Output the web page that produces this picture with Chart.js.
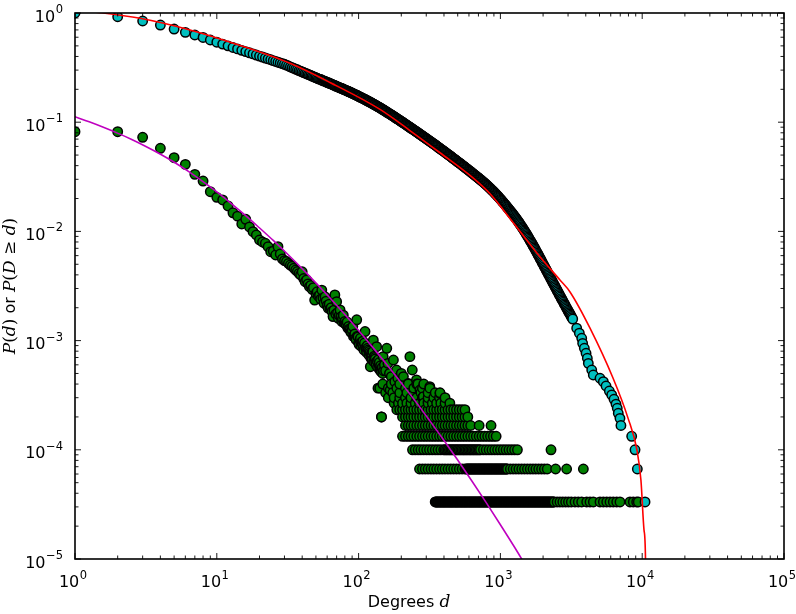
<!DOCTYPE html>
<html><head><meta charset="utf-8">
<script src="https://cdn.jsdelivr.net/npm/chart.js@4.4.1/dist/chart.umd.min.js"></script>
<style>html,body{margin:0;padding:0;background:#fff}canvas{display:block}</style>
</head><body>
<canvas id="c" width="796" height="614" style="width:796px;height:614px"></canvas>
<script>
// ---------- tick labels ----------
const xTickExponents = [0, 1, 2, 3, 4, 5];
const yTickExponents = [0, -1, -2, -3, -4, -5];
const minorMultipliers = [2, 3, 4, 5, 6, 7, 8, 9];

// ---------- complementary CDF P(D >= d)  [degree, probability] ----------
const ccdfPoints = [
[1,1.0],[2,0.925],[3,0.845],[4,0.776],[5,0.713],[6,0.665],[7,0.629],[8,0.597],[9,0.566],[10,0.540],
[11,0.519],[12,0.500],[13,0.483],[14,0.469],[15,0.455],[16,0.443],[17,0.432],[18,0.422],[19,0.412],[20,0.403],
[21,0.395],[22,0.387],[23,0.380],[24,0.373],[25,0.366],[26,0.360],[27,0.354],[28,0.349],[29,0.344],[30,0.339],
[31,0.333],[32,0.327],[33,0.321],[34,0.316],[35,0.311],[36,0.306],[37,0.302],[38,0.297],[39,0.293],[40,0.289],
[41,0.285],[42,0.281],[43,0.278],[44,0.274],[45,0.271],[46,0.268],[47,0.264],[48,0.261],[49,0.258],[50,0.256],
[51,0.2526],[52,0.2495],[54,0.2464],[55,0.2432],[56,0.2402],[58,0.2371],[59,0.2342],[60,0.2312],[62,0.2283],[63,0.2254],
[65,0.2226],[66,0.2198],[68,0.2170],[69,0.2143],[71,0.2116],[72,0.2089],[74,0.2063],[76,0.2037],[78,0.2011],[79,0.1986],
[81,0.1961],[83,0.1935],[85,0.1909],[87,0.1884],[89,0.1858],[91,0.1832],[93,0.1806],[96,0.1780],[98,0.1754],[100,0.1728],
[102,0.1703],[105,0.1678],[107,0.1653],[110,0.1628],[112,0.1603],[115,0.1578],[117,0.1553],[120,0.1529],[123,0.1504],[126,0.1479],
[129,0.1455],[132,0.1430],[135,0.1405],[138,0.1381],[141,0.1357],[145,0.1332],[148,0.1308],[151,0.1285],[155,0.1261],[158,0.1237],
[162,0.1214],[166,0.1191],[170,0.1168],[174,0.1146],[178,0.1124],[182,0.1102],[186,0.1080],[191,0.1059],[195,0.1038],[200,0.1017],
[204,0.09975],[209,0.09779],[214,0.09585],[219,0.09395],[224,0.09207],[229,0.09022],[234,0.08841],[240,0.08661],[245,0.08486],[251,0.08314],
[257,0.08143],[263,0.07976],[269,0.07812],[275,0.0765],[282,0.07491],[288,0.07336],[295,0.07184],[302,0.07033],[309,0.06887],[316,0.06742],
[324,0.0660],[331,0.0646],[339,0.06324],[347,0.06188],[355,0.06056],[363,0.05925],[372,0.05797],[380,0.05672],[389,0.05549],[398,0.05427],
[407,0.05308],[417,0.05191],[427,0.05076],[437,0.04964],[447,0.04854],[457,0.04747],[468,0.04641],[479,0.04537],[490,0.04436],[501,0.04337],
[513,0.0424],[525,0.04144],[537,0.0405],[550,0.03957],[562,0.03866],[575,0.03777],[589,0.0369],[603,0.03604],[617,0.0352],[631,0.03437],
[646,0.03356],[661,0.03276],[676,0.03198],[692,0.03122],[708,0.03047],[724,0.02973],[741,0.02901],[759,0.02828],[776,0.02755],[794,0.02683],
[813,0.0261],[832,0.02538],[851,0.02466],[871,0.02394],[891,0.02323],[912,0.02252],[933,0.02183],[955,0.02113],[977,0.02044],[1000,0.01975],
[1023,0.01908],[1047,0.01843],[1072,0.01778],[1096,0.01715],[1122,0.01654],[1148,0.01594],[1175,0.01536],[1202,0.01479],[1230,0.01424],[1259,0.01369],
[1288,0.01315],[1318,0.01262],[1349,0.01209],[1380,0.01157],[1413,0.01107],[1445,0.01057],[1479,0.01008],[1514,0.009605],[1549,0.009141],[1585,0.00869],
[1622,0.008257],[1660,0.007839],[1698,0.007437],[1738,0.007052],[1778,0.006683],[1820,0.006328],[1862,0.005988],[1905,0.005662],[1950,0.005352],[1995,0.005056],
[2042,0.004777],[2089,0.004516],[2138,0.004268],[2188,0.004034],[2239,0.003814],[2291,0.003604],[2344,0.003406],[2399,0.00322],[2455,0.003045],[2512,0.002878],
[2570,0.002721],[2630,0.002574],[2692,0.002435],[2754,0.002304],[2818,0.002181],[2884,0.002064],[2951,0.001955],[3020,0.001851],[3090,0.001754],[3162,0.001662],
[3236,0.001575],[3451,1.30e-3],[3603,1.17e-3],[3745,1.05e-3],[3802,9.44e-4],[3908,8.50e-4],[4018,7.65e-4],[4102,6.89e-4],[4169,6.19e-4],[4406,5.38e-4],
[4519,4.84e-4],[5040,4.52e-4],[5321,4.21e-4],[5559,3.84e-4],[5865,3.45e-4],[6096,3.18e-4],[6326,2.90e-4],[6534,2.62e-4],[6670,2.40e-4],[6780,2.16e-4],
[6970,1.94e-4],[7080,1.67e-4],[8430,1.33e-4],[8900,1.0e-4],[9240,6.67e-5],[10470,3.33e-5]
];
// further degrees along the densely packed (black-looking) stretch of the same curve
const ccdfPointsDense = [
[53,0.2478],[57,0.2380],[61,0.2294],[64,0.2237],[67,0.2181],[70,0.2129],[73,0.2080],[75,0.2049],[77,0.2020],[80,0.1978],
[82,0.1951],[84,0.1924],[86,0.1898],[88,0.1872],[90,0.1847],[92,0.1822],[94,0.1798],[95,0.1786],[97,0.1762],[99,0.1739],
[101,0.17155],[103,0.16905],[106,0.16655],[108,0.16405],[111,0.16155],[113,0.15905],[116,0.15655],[119,0.1541],[122,0.15165],[124,0.14915],
[127,0.1467],[130,0.14425],[133,0.14175],[136,0.1393],[140,0.1369],[143,0.13445],[146,0.132],[150,0.12965],[153,0.1273],[157,0.1249],
[160,0.12255],[164,0.12025],[168,0.11795],[172,0.1157],[176,0.1135],[180,0.1113],[184,0.1091],[188,0.10695],[193,0.10485],[197,0.10275],
[202,0.10073],[207,0.09877],[211,0.09682],[216,0.0949],[221,0.09301],[226,0.09115],[232,0.08932],[237,0.08751],[243,0.08574],[248,0.084],
[254,0.08229],[260,0.0806],[266,0.07894],[272,0.07731],[279,0.07571],[285,0.07414],[292,0.0726],[299,0.07109],[305,0.0696],[313,0.06815],
[320,0.06671],[327,0.0653],[335,0.06392],[343,0.06256],[351,0.06122],[359,0.05991],[367,0.05861],[376,0.05735],[385,0.05611],[394,0.05488],
[403,0.05368],[412,0.0525],[422,0.05134],[432,0.0502],[442,0.04909],[452,0.04801],[462,0.04694],[473,0.04589],[484,0.04487],[495,0.04387],
[507,0.04289],[519,0.04192],[531,0.04097],[543,0.04004],[556,0.03912],[569,0.03822],[582,0.03734],[596,0.03647],[610,0.03562],[624,0.03479],
[638,0.03397],[653,0.03316],[668,0.03237],[684,0.0316],[700,0.03085],[716,0.0301],[733,0.02937],[750,0.02865],[767,0.02792],[785,0.02719],
[804,0.02647],[822,0.02574],[841,0.02502],[861,0.0243],[881,0.02359],[902,0.02288],[923,0.02218],[944,0.02148],[966,0.02079],[989,0.0201],
[1012,0.01942],[1035,0.01876],[1059,0.01811],[1084,0.01747],[1109,0.01685],[1135,0.01624],[1161,0.01565],[1189,0.01508],[1216,0.01452],[1245,0.01397],
[1274,0.01342],[1303,0.01289],[1334,0.01236],[1365,0.01183],[1396,0.01132],[1429,0.01082],[1462,0.01033],[1496,0.009843],[1531,0.009373],[1567,0.008916],
[1603,0.008474],[1641,0.008048],[1679,0.007638],[1718,0.007245],[1758,0.006868],[1799,0.006506],[1841,0.006158],[1884,0.005825],[1928,0.005507],[1972,0.005204],
[2018,0.004917],[2065,0.004647],[2114,0.004392],[2163,0.004151],[2213,0.003924],[2265,0.003709],[2317,0.003505],[2371,0.003313],[2427,0.003133],[2483,0.002962],
[2541,0.0028],[2600,0.002648],[2661,0.002505],[2723,0.00237],[2786,0.002243],[2851,0.002123],[2917,0.00201],[2985,0.001903],[3055,0.001803],[3126,0.001708],
[3199,0.001619]
];

// ---------- degree distribution P(d): scattered part [degree, probability] ----------
const pdfPoints = [
[1,0.0818],[2,0.0818],[3,0.0727],[4,0.0577],[5,0.0473],[6,0.0411],[7,0.0333],[8,0.0289],[9,0.0231],[10,0.0205],
[11,0.0194],[12,0.0171],[13,0.0148],[14,0.0138],[15,0.0117],[16,0.0129],[17,0.0110],[18,0.00994],[19,0.00927],[20,0.00834],
[21,0.0080],[22,0.00778],[23,0.00724],[24,0.00652],[25,0.0066],[26,0.00608],[27,0.00724],[28,0.0062],[29,0.0056],[30,0.0054],
[31,0.0053],[32,0.0051],[33,0.00492],[34,0.0048],[35,0.0046],[36,0.00443],[37,0.0043],[38,0.00413],[39,0.0040],[40,0.00427],
[41,0.0037],[42,0.00346],[43,0.0036],[44,0.0033],[45,0.00312],[46,0.0032],[47,0.00295],[48,0.00305],[49,0.00235],[50,0.0027],
[51,0.0028],[52,0.00255],[53,0.0026],[54,0.0024],[55,0.0029],[56,0.00245],[57,0.0022],[58,0.00252],[59,0.0023],[60,0.0021],
[61,0.00198],[62,0.00215],[63,0.00195],[64,0.0020],[65,0.00185],[66,0.00166],[67,0.0019],[68,0.00262],[69,0.00175],[70,0.00227],
[71,0.0018],[72,0.0016],[73,0.0017],[74,0.00191],[75,0.00165],[76,0.0015],[77,0.00158],[78,0.00171],[79,0.00145],[80,0.0015],
[81,0.00142],[82,0.00139],[83,0.00148],[84,0.0013],[85,0.00135],[86,0.00128],[87,0.00125],[88,0.0012],[89,0.00118],[90,0.00125],
[91,0.00135],[92,0.00109],[93,0.00112],[94,0.00115],[95,0.00105],[96,0.00102],[97,0.00155],[98,0.0011],[99,0.00108],[100,0.00095],
[101,0.00092],[102,0.00101],[103,0.00105],[104,0.00089],[105,0.00097],[106,0.00093],[107,0.00099],[108,0.00087],[109,0.00082],[110,0.00095],
[111,0.00121],[112,0.00086],[113,0.00083],[114,0.00078],[115,0.0009],[116,0.00085],[117,0.00082],[118,0.00074],[119,0.0008],[120,0.00077],
[121,0.000577],[122,0.00069],[123,0.00076],[124,0.00073],[125,0.00067],[126,0.00079],[127,0.00101],[128,0.00064],[129,0.00072],[130,0.0007],
[131,0.00068],[132,0.00063],[133,0.0006],[134,0.00088],[135,0.00065],[136,0.00057],[137,0.000367],[138,0.00067],[139,0.0006],[140,0.00063],
[141,0.000538],[142,0.00055],[143,0.00059],[144,0.00052],[145,0.0002],[146,0.00056],[147,0.00057],[148,0.0005],[149,0.000713],[150,0.00053],
[152,0.0006],[155,0.00053],[158,0.00085],[161,0.000619],[165,0.0005],[167,0.000353],[170,0.000467],[176,0.000664],[180,0.000421],[185,0.000538],
[189,0.000452],[200,0.0005],[207,0.000468],[224,0.000406],[230,0.000713],[239,0.000538],[256,0.000436],[262,0.0004],[271,0.000353],[286,0.000306],
[309,0.000276],[318,0.000379],[375,0.000329]
];

// ---------- P(d): degrees sitting on the low-count levels (1..12 nodes of ~30000) ----------
const pdfRowProb = [3.33e-5, 6.67e-5, 1.0e-4, 1.33e-4, 1.67e-4, 2.0e-4, 2.33e-4, 2.67e-4, 3.0e-4, 3.33e-4, 3.67e-4, 4.0e-4];
const pdfRow1 = [347,351,355,359,363,367,372,376,380,385,389,394,398,403,407,412,417,422,427,432,437,442,447,452,457,462,468,473,479,484,490,495,501,507,513,519,525,531,537,543,550,556,562,569,575,582,589,596,603,610,617,624,631,638,646,653,661,668,676,684,692,700,708,716,724,733,741,750,759,767,776,785,794,804,813,822,832,841,851,861,871,881,891,902,912,923,933,944,955,966,977,989,1000,1012,1023,1035,1047,1059,1072,1084,1096,1109,1122,1135,1148,1161,1175,1189,1202,1216,1230,1245,1259,1274,1288,1303,1318,1334,1349,1365,1380,1396,1413,1429,1445,1462,1479,1496,1514,1531,1549,1567,1585,1603,1622,1641,1660,1679,1698,1718,1738,1758,1778,1799,1820,1841,1862,1884,1905,1928,1950,1972,1995,2018,2042,2065,2089,2114,2138,2163,2188,2213,2239,2265,2291,2317,2344,2371,2399,2512,2630,2754,2884,3020,3162,3357,3542,3741,4060,4285,4520,5040,5320,5620,5930,6250,6610,6970,8200,8650,9140,9380];
const pdfRow2 = [269,282,295,309,324,339,355,372,389,407,427,447,468,490,513,537,562,575,582,589,596,603,610,617,624,631,638,646,653,661,668,676,684,692,700,708,716,724,733,741,750,759,767,776,785,794,804,813,822,832,841,851,861,871,881,891,902,912,923,933,944,955,966,977,989,1000,1012,1023,1035,1047,1059,1072,1084,1096,1109,1122,1175,1230,1288,1349,1413,1479,1549,1622,1698,1778,1862,1950,2042,2138,2450,2931,3846];
const pdfRow3 = [240,251,263,275,288,302,316,331,347,363,380,398,407,417,427,437,447,457,468,479,490,501,513,525,537,550,562,575,589,603,617,631,646,661,676,692,708,724,759,794,832,871,912,955,1000,1047,1096,1148,1202,1259,1318,2275];
const pdfRow4 = [204,214,224,234,245,257,269,282,295,309,324,339,355,372,389,407,427,447,468,490,513,537,562,589,617,646,676,708,741,776,813,851,891,933];
const pdfRow5 = [214,224,234,245,257,269,282,295,309,324,339,355,372,389,407,427,447,468,490,513,537,562,589,617,708,859];
const pdfRow6 = [145,204,214,224,234,245,257,269,282,295,309,324,339,355,372,389,407,427,447,468,490,513,537,562,589];
const pdfRow7 = [186,195,204,214,224,234,245,257,269,282,295,309,324,339,355,372,389,407,427,447,468,490,513,537,562];
const pdfRow8 = [178,191,204,219,234,251,269,288,309,331,355,380,407,440];
const pdfRow9 = [162,178,195,214,234,257,282,309,339,372,407];
const pdfRow10 = [155,174,195,219,245,275,309,347,375];
const pdfRow11 = [141,162,186,214,245,282,318];
const pdfRow12 = [148,170,195,224,257,288];
const pdfRows = [pdfRow1,pdfRow2,pdfRow3,pdfRow4,pdfRow5,pdfRow6,pdfRow7,pdfRow8,pdfRow9,pdfRow10,pdfRow11,pdfRow12];

// ---------- fitted curves ----------
const pdfFitDegree = [1,1.259,1.585,1.995,2.512,3.162,3.981,5.012,6.31,7.943,10,12.59,15.85,19.95,25.12,31.62,39.81,50.12,63.1,79.43,100,125.9,158.5,199.5,251.2,316.2,398.1,501.2,631,794.3,1000,1259,1585];
const pdfFitProb = [0.1122,0.1008,0.0898,0.0794,0.0695,0.0600,0.0512,0.0430,0.0354,0.0287,0.0230,0.0181,0.0141,0.0108,0.00822,0.00617,0.00458,0.00336,0.00244,0.00175,0.00124,8.67e-4,6.01e-4,4.11e-4,2.79e-4,1.86e-4,1.23e-4,8.02e-5,5.16e-5,3.28e-5,2.06e-5,1.28e-5,7.8e-6];
const ccdfFitDegree = [1,1.5,2.87,6.47,14.6,32.8,62.8,141.6,230,375,641,845,1268,1901,2630,3097,4285,6223,7943,9183,9795,10300,10550,10650];
const ccdfFitProb = [1.06,1.007,0.894,0.699,0.504,0.346,0.231,0.1309,0.0839,0.0525,0.0309,0.0221,0.01145,0.00586,0.00359,0.00279,1.30e-3,4.54e-4,1.95e-4,9.96e-5,5.29e-5,1.84e-5,1.0e-5,1e-6];

// ---------- build datasets ----------
const ccdfData = ccdfPoints.concat(ccdfPointsDense).map(p => ({x: p[0], y: p[1]})).sort((a, b) => a.x - b.x);
let pdfData = pdfPoints.map(p => ({x: p[0], y: p[1]}));
pdfRows.forEach((row, i) => row.forEach(d => pdfData.push({x: d, y: pdfRowProb[i]})));
pdfData.sort((a, b) => a.x - b.x);
const pdfFitData = pdfFitDegree.map((d, i) => ({x: d, y: pdfFitProb[i]}));
const ccdfFitData = ccdfFitDegree.map((d, i) => ({x: d, y: ccdfFitProb[i]}));

// ---------- text / frame drawing ----------
const SANS = '"DejaVu Sans", sans-serif';
const SERIF_I = 'italic 17px "DejaVu Serif", serif';
const SERIF_R = '17px "DejaVu Serif", serif';
function powLabel(ctx, exp, x, baseline, align) {
  const expText = exp < 0 ? '\u2212' + (-exp) : String(exp);
  ctx.font = '16px ' + SANS; const w1 = ctx.measureText('10').width;
  ctx.font = '11.5px ' + SANS; const w2 = ctx.measureText(expText).width;
  const total = w1 + w2 + 0.5;
  const left = align === 'center' ? x - total / 2 - 2 : x - total;
  ctx.font = '16px ' + SANS; ctx.fillText('10', left, baseline);
  ctx.font = '11.5px ' + SANS; ctx.fillText(expText, left + w1 + 0.5, baseline - 8.5);
}
function richWidth(ctx, segs) { let w = 0; for (const s of segs) { ctx.font = s.f; w += ctx.measureText(s.t).width; } return w; }
function drawRich(ctx, segs, x, y) { let cx = x; for (const s of segs) { ctx.font = s.f; ctx.fillText(s.t, cx, y); cx += ctx.measureText(s.t).width; } }

const framePlugin = {
  id: 'frame',
  afterDatasetsDraw(chart) {
    const {ctx, chartArea: a} = chart;
    const xs = chart.scales.x, ys = chart.scales.y;
    const MAJ = 6, MIN = 3.5;
    ctx.save();
    ctx.strokeStyle = '#000';
    ctx.lineWidth = 0.9;
    ctx.beginPath();
    const seg = (x1, y1, x2, y2) => { ctx.moveTo(x1, y1); ctx.lineTo(x2, y2); };
    xTickExponents.forEach((e, i) => {
      const base = Math.pow(10, e);
      const p = xs.getPixelForValue(base);
      seg(p, a.bottom, p, a.bottom - MAJ); seg(p, a.top, p, a.top + MAJ);
      if (i < xTickExponents.length - 1) minorMultipliers.forEach(m => {
        const q = xs.getPixelForValue(base * m);
        seg(q, a.bottom, q, a.bottom - MIN); seg(q, a.top, q, a.top + MIN);
      });
    });
    yTickExponents.forEach((e, i) => {
      const base = Math.pow(10, e);
      const p = ys.getPixelForValue(base);
      seg(a.left, p, a.left + MAJ, p); seg(a.right, p, a.right - MAJ, p);
      if (e > -5) minorMultipliers.forEach(m => {
        const q = ys.getPixelForValue(base / 10 * m);
        seg(a.left, q, a.left + MIN, q); seg(a.right, q, a.right - MIN, q);
      });
    });
    ctx.stroke();
    ctx.lineWidth = 1.6;
    ctx.strokeRect(a.left, a.top, a.right - a.left, a.bottom - a.top);
    ctx.restore();
  },
  afterDraw(chart) {
    const {ctx, chartArea: a} = chart;
    const xs = chart.scales.x, ys = chart.scales.y;
    ctx.save();
    ctx.fillStyle = '#000';
    ctx.textAlign = 'left';
    ctx.textBaseline = 'alphabetic';
    xTickExponents.forEach(e => powLabel(ctx, e, xs.getPixelForValue(Math.pow(10, e)), a.bottom + 28, 'center'));
    yTickExponents.forEach(e => powLabel(ctx, e, 63, ys.getPixelForValue(Math.pow(10, e)) + 8.5, 'right'));
    // x title
    const xt = [{t: 'Degrees ', f: '16px ' + SANS}, {t: 'd', f: SERIF_I}];
    drawRich(ctx, xt, 409 - richWidth(ctx, xt) / 2, 607);
    // y title
    const yt = [{t: 'P', f: SERIF_I}, {t: '(', f: SERIF_R}, {t: 'd', f: SERIF_I}, {t: ')', f: SERIF_R},
                {t: ' or ', f: '16px ' + SANS},
                {t: 'P', f: SERIF_I}, {t: '(', f: SERIF_R}, {t: 'D', f: SERIF_I}, {t: ' \u2265 ', f: SERIF_R}, {t: 'd', f: SERIF_I}, {t: ')', f: SERIF_R}];
    ctx.translate(15, (a.top + a.bottom) / 2);
    ctx.rotate(-Math.PI / 2);
    drawRich(ctx, yt, -richWidth(ctx, yt) / 2, 0);
    ctx.restore();
  }
};

new Chart(document.getElementById('c'), {
  type: 'scatter',
  data: {
    datasets: [
      {label: 'P(d) fit', data: pdfFitData, showLine: true, borderColor: '#bf00bf', borderWidth: 1.6, pointRadius: 0, cubicInterpolationMode: 'monotone', order: 0, clip: 0},
      {label: 'P(D>=d) fit', data: ccdfFitData, showLine: true, borderColor: '#ff0000', borderWidth: 1.6, pointRadius: 0, cubicInterpolationMode: 'monotone', order: 1, clip: 0},
      {label: 'P(D>=d)', data: ccdfData, backgroundColor: '#00bfbf', borderColor: '#000', borderWidth: 1.5, pointRadius: 4.7, pointStyle: 'circle', order: 2, clip: 0},
      {label: 'P(d)', data: pdfData, backgroundColor: '#008000', borderColor: '#000', borderWidth: 1.5, pointRadius: 4.7, pointStyle: 'circle', order: 3, clip: 0}
    ]
  },
  options: {
    responsive: false, animation: false, devicePixelRatio: 1, events: [],
    layout: {padding: {left: 0, top: 13, right: 12, bottom: 0}},
    plugins: {legend: {display: false}, tooltip: {enabled: false}},
    scales: {
      x: {type: 'logarithmic', min: 1, max: 1e5, ticks: {display: false}, grid: {display: false}, border: {display: false}, afterFit(s) { s.height = 55; }},
      y: {type: 'logarithmic', min: 1e-5, max: 1, ticks: {display: false}, grid: {display: false}, border: {display: false}, afterFit(s) { s.width = 75; }}
    }
  },
  plugins: [framePlugin]
});
</script>
</body></html>
